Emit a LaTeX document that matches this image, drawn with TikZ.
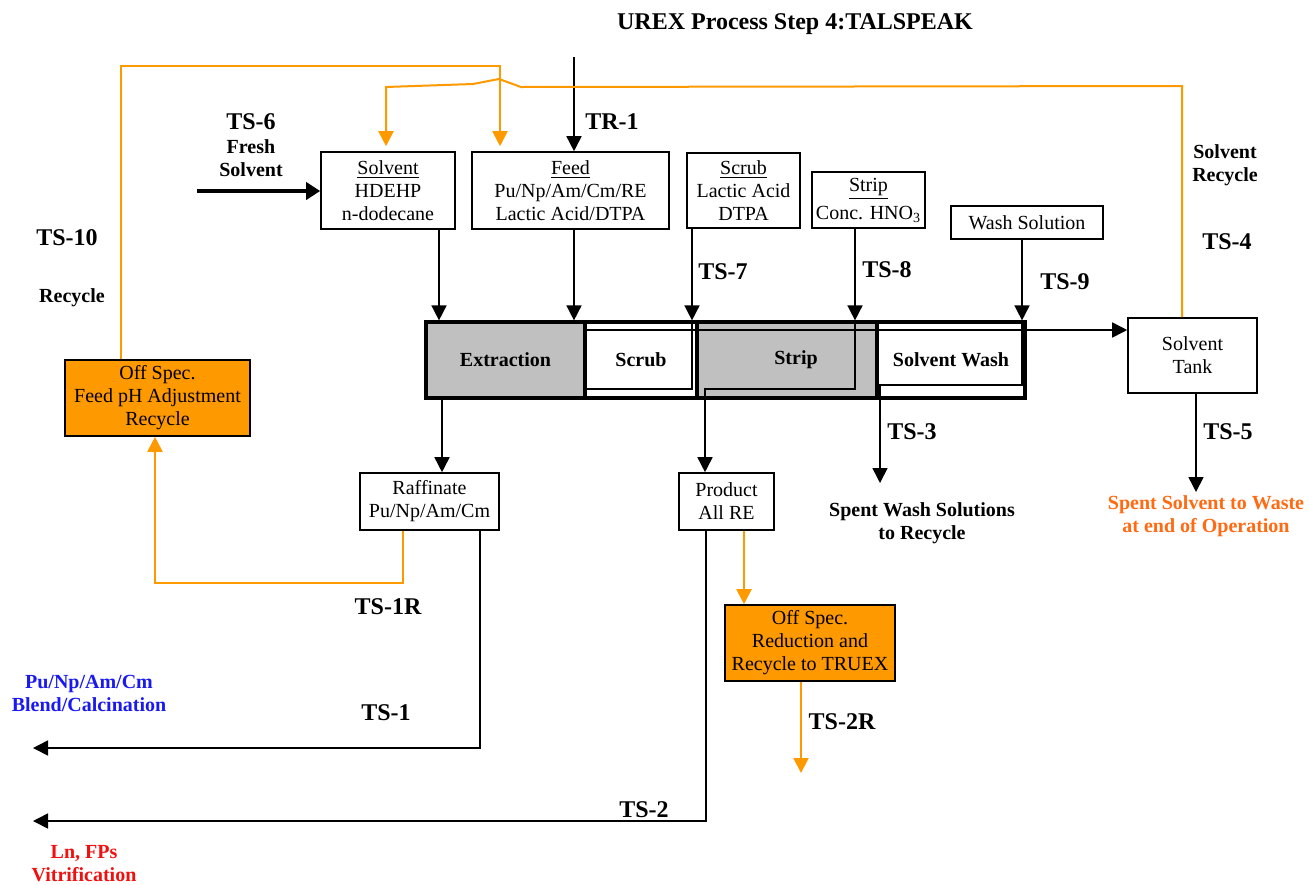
\documentclass[tikz,border=0pt]{standalone}
\usepackage{fontspec}
\setmainfont{Liberation Serif}
\usepackage{xcolor}
\usetikzlibrary{arrows.meta}
\definecolor{offspec}{HTML}{FF9900}
\definecolor{wasteorange}{HTML}{FF6A13}
\definecolor{stagegray}{HTML}{C0C0C0}
\definecolor{calcblue}{HTML}{1A1AF0}
\definecolor{vitred}{HTML}{F01010}
\tikzset{
  box/.style={draw, line width=0.8pt, inner sep=0pt, align=center, font=\fontsize{10}{11.5}\selectfont},
  stage/.style={draw, line width=1.6pt, inner sep=0pt, minimum height=38pt, font=\bfseries\fontsize{10}{12}\selectfont},
  pipe/.style={line width=0.8pt},
  flow/.style={pipe, -{Triangle[length=7.5pt,width=7.5pt]}},
  recyc/.style={line width=1pt, draw=offspec, -{Triangle[length=7.5pt,width=7.5pt]}},
  tslabel/.style={font=\bfseries\fontsize{12}{14}\selectfont, inner sep=0pt},
  note/.style={font=\bfseries\fontsize{10}{11.5}\selectfont, align=center, inner sep=0pt},
}

\begin{document}
\begin{tikzpicture}[x=0.5pt, y=-0.5pt]       % TALSPEAK flowsheet, pixel grid
    \useasboundingbox (0,0) rectangle (1309,884);

    \node[tslabel] at (795,24) (title) {UREX Process Step 4:TALSPEAK};

    % feed boxes
    \node[box, minimum width=67pt, minimum height=38.5pt] at (388,190.5) (solvent) {\underline{Solvent}\\HDEHP\\n-dodecane};
    \node[box, minimum width=98.5pt, minimum height=38.5pt] at (570.5,190.5) (feed) {\underline{Feed}\\Pu/Np/Am/Cm/RE\\Lactic Acid/DTPA};
    \node[box, minimum width=56.5pt, minimum height=37.5pt] at (743.5,190.5) (scrubin) {\underline{Scrub}\\Lactic Acid\\DTPA};
    \node[box, minimum width=56.5pt, minimum height=28pt] at (868.5,200) (stripin) {\underline{Strip}\\[2.5pt]Conc. HNO\textsubscript{3}};
    \node[box, minimum width=76pt, minimum height=16.5pt] at (1027,222.5) (wash) {Wash Solution};
    \node[box, minimum width=64.5pt, minimum height=37.5pt] at (1192.5,355.5) (tank) {Solvent\\Tank};

    % contactor stages
    \node[stage, fill=stagegray, minimum width=79.5pt] at (505.5,360) (extr) {\raisebox{-1.5pt}{Extraction}};
    \node[stage, fill=white, minimum width=56pt] at (641,360) (scrub) {\raisebox{-1.5pt}{Scrub}};
    \node[stage, fill=stagegray, minimum width=90pt] at (787,360) (strip) {\hspace*{9pt}\raisebox{-1.5pt}{Strip}};
    \node[stage, fill=white, minimum width=74pt] at (951,360) (swash) {Solvent Wash};

    % product boxes
    \node[box, minimum width=69.5pt, minimum height=28.5pt] at (429.5,501.5) (raff) {Raffinate\\Pu/Np/Am/Cm};
    \node[box, minimum width=47.5pt, minimum height=28.5pt] at (726.5,501.5) (prod) {Product\\All RE};
    \node[box, fill=offspec, minimum width=92.5pt, minimum height=38pt] at (157.5,398) (offspec1) {Off Spec.\\Feed pH Adjustment\\Recycle};
    \node[box, fill=offspec, minimum width=85pt, minimum height=38pt] at (810,643) (offspec2) {Off Spec.\\Reduction and\\Recycle to TRUEX};

    % bends and free ends
    \coordinate (tr1top) at (574,57);
    \coordinate (ts6start) at (197,191);
    \coordinate (solx) at (439,0);
    \coordinate (s7) at (692,0);
    \coordinate (s8) at (855,0);
    \coordinate (s9) at (1022,0);
    \coordinate (lowline) at (0,389);
    \coordinate (washline) at (0,385);
    \coordinate (prodin) at (705,0);
    \coordinate (washout) at (880,483);
    \coordinate (orgline) at (585,330);
    \coordinate (raffx) at (442,0);
    \coordinate (ts1bend) at (480,748);
    \coordinate (ts1end) at (33,748);
    \coordinate (r1bend) at (403,583);
    \coordinate (r1bend2) at (155,583);
    \coordinate (t10a) at (121,66);
    \coordinate (t10b) at (500,66);
    \coordinate (t4a) at (1182,86);
    \coordinate (hopR) at (521,87);
    \coordinate (hopT) at (499,79);
    \coordinate (hopL) at (473,84);
    \coordinate (t4e) at (386,87);
    \coordinate (ts5end) at (1196,492);
    \coordinate (ts2bend) at (706,821);
    \coordinate (ts2end) at (33,821);
    \coordinate (prodo) at (744,0);
    \coordinate (ts2rend) at (801,773);

    % streams
    \draw[flow] (tr1top) -- (tr1top |- feed.north);
    \draw[line width=2pt, -{Triangle[length=7pt,width=8.5pt]}] (ts6start) -- (solvent.west |- ts6start);
    \draw[flow] (solvent.south -| solx) -- (extr.north -| solx);
    \draw[flow] (feed.south -| tr1top) -- (extr.north -| tr1top);
    \draw[flow] (scrubin.south -| s7) -- (scrub.north -| s7);
    \draw[pipe] (scrub.north -| s7) |- (extr.east |- lowline);
    \draw[flow] (stripin.south -| s8) -- (strip.north -| s8);
    \draw[flow] (strip.north -| s8) |- (prodin |- lowline) -- (prod.north -| prodin);
    \draw[flow] (wash.south -| s9) -- (swash.north -| s9);
    \draw[flow] (swash.north -| s9) |- (washout |- washline) -- (washout);
    \draw[flow] (orgline) -- (orgline -| tank.west);
    \draw[flow] (extr.south -| raffx) -- (raff.north -| raffx);
    \draw[flow] (raff.south -| ts1bend) -- (ts1bend) -- (ts1end);
    \draw[flow] (prod.south -| ts2bend) -- (ts2bend) -- (ts2end);
    \draw[flow] (tank.south -| ts5end) -- (ts5end);

    % recycle streams
    \draw[recyc] (raff.south -| r1bend) -- (r1bend) -- (r1bend2) -- (offspec1.south -| r1bend2);
    \draw[recyc, shorten >=2.5pt] (offspec1.north -| t10a) -- (t10a) -- (t10b) -- (feed.north -| t10b);
    \draw[recyc, shorten >=2.5pt] (tank.north -| t4a) -- (t4a) -- (hopR) -- (hopT) -- (hopL) -- (t4e) -- (solvent.north -| t4e);
    \draw[recyc] (prod.south -| prodo) -- (offspec2.north -| prodo);
    \draw[recyc] (offspec2.south -| ts2rend) -- (ts2rend);

    % stream labels
    \node[tslabel] at (612,122) (lTR1) {TR-1};
    \node[tslabel] at (251,122) (lTS6) {TS-6};
    \node[note] at (251,158) (lfresh) {Fresh\\Solvent};
    \node[tslabel] at (67,238) (lTS10) {TS-10};
    \node[note] at (72,298) (lrec) {Recycle};
    \node[tslabel] at (723,272) (lTS7) {TS-7};
    \node[tslabel] at (887,270) (lTS8) {TS-8};
    \node[tslabel] at (1065,282) (lTS9) {TS-9};
    \node[note] at (1225,165) (lsolrec) {Solvent\\Recycle};
    \node[tslabel] at (1227,242) (lTS4) {TS-4};
    \node[tslabel] at (912,432) (lTS3) {TS-3};
    \node[tslabel] at (1228,432) (lTS5) {TS-5};
    \node[note] at (922,523) (lspent) {Spent Wash Solutions\\to Recycle};
    \node[note, text=wasteorange] at (1206,516) (lwaste) {Spent Solvent to Waste\\at end of Operation};
    \node[tslabel] at (388,607) (lTS1R) {TS-1R};
    \node[tslabel] at (386,713) (lTS1) {TS-1};
    \node[tslabel] at (644,810) (lTS2) {TS-2};
    \node[tslabel] at (842,722) (lTS2R) {TS-2R};
    \node[note, text=calcblue] at (89,693) (lcalc) {Pu/Np/Am/Cm\\Blend/Calcination};
    \node[note, text=vitred] at (84,864) (lvit) {Ln, FPs\\Vitrification};
\end{tikzpicture}
\end{document}
